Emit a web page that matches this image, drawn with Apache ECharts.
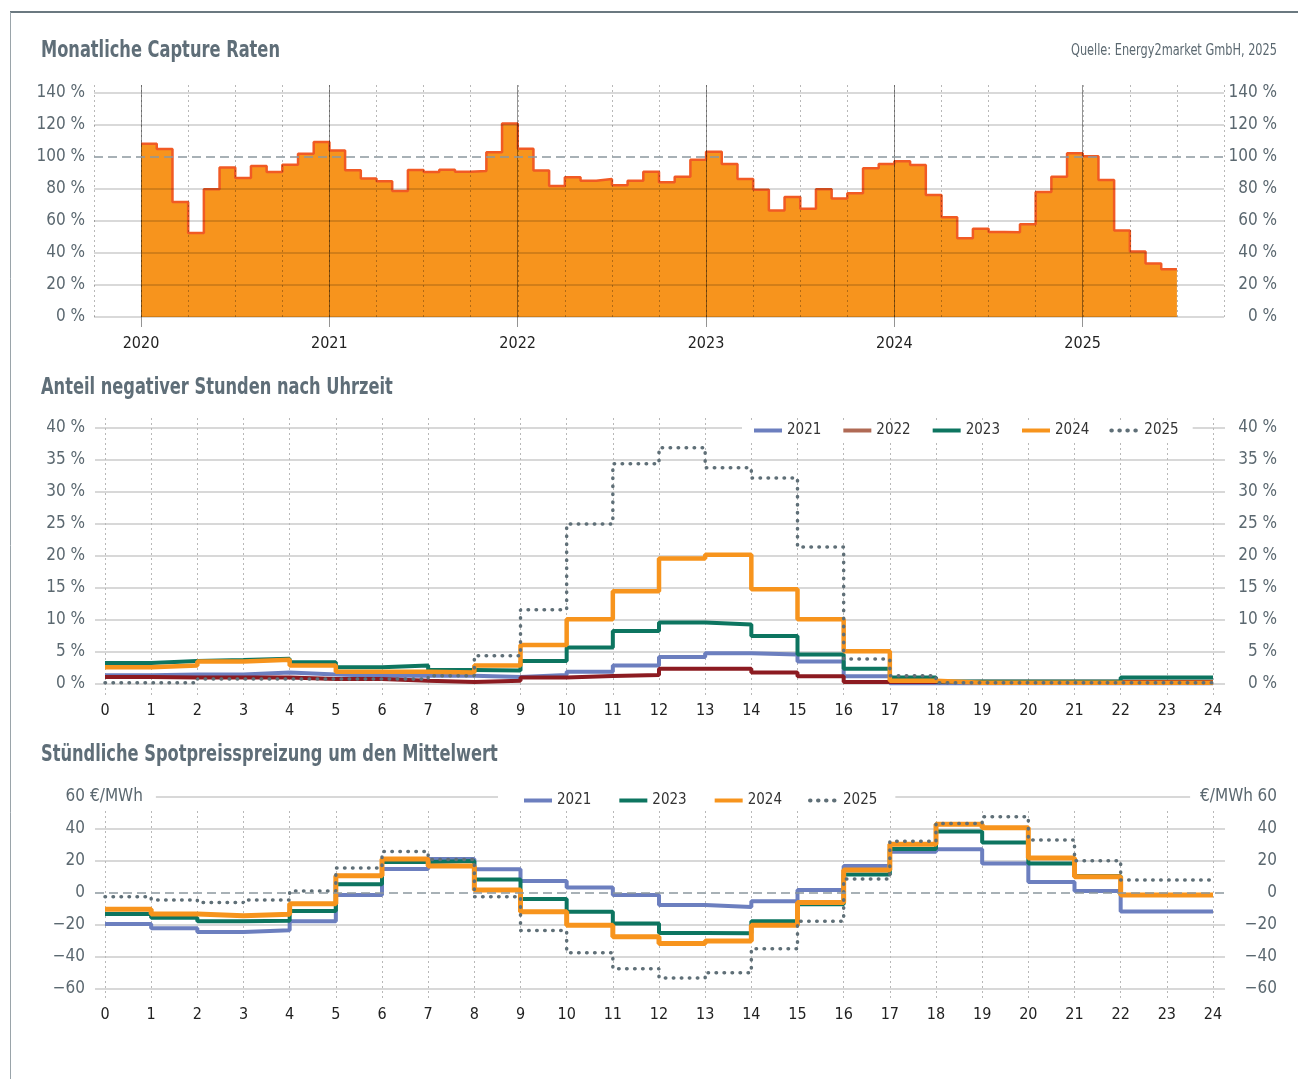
<!DOCTYPE html>
<html><head><meta charset="utf-8">
<script src="https://cdn.jsdelivr.net/npm/echarts@6/dist/echarts.min.js"></script>
<style>html,body{margin:0;padding:0;background:#fff}#c{width:1298px;height:1079px}</style>
</head><body><div id="c"></div>
<script>
// ---------- DATA ----------
const yearTicks = ['2020', '2021', '2022', '2023', '2024', '2025'];
const hourTicks = ['0','1','2','3','4','5','6','7','8','9','10','11','12','13','14','15','16','17','18','19','20','21','22','23','24'];
const pctTicks = [0, 20, 40, 60, 80, 100, 120, 140];
const negTicks = [0, 5, 10, 15, 20, 25, 30, 35, 40];
const spreadTicks = [-60, -40, -20, 0, 20, 40, 60];

// Monthly capture rates in %, Jan 2020 .. Jun 2025
const captureRates = [
  108.3, 105.0, 71.9, 52.5, 79.8, 93.5, 86.9, 94.4, 90.6, 95.2, 102.1, 109.4,
  104.0, 91.7, 86.5, 84.8, 78.8, 91.9, 90.6, 92.1, 90.8, 91.3, 102.9, 121.0,
  105.2, 91.5, 81.9, 87.3, 85.2, 86.3, 82.3, 85.2, 90.8, 84.2, 87.7, 98.3,
  103.3, 95.6, 86.3, 79.6, 66.5, 75.0, 67.7, 79.8, 74.0, 77.3, 92.9, 95.6,
  97.3, 95.0, 76.3, 62.3, 49.2, 55.2, 53.1, 52.9, 57.9, 78.1, 87.7, 102.3,
  100.4, 85.6, 54.0, 41.0, 33.5, 29.8
];

// Share of negative hours by hour of day (%)
const negYears = ['2021', '2022', '2023', '2024', '2025'];
const neg2021 = [1.35,1.5,1.5,1.8,1.5,1.3,1.3,1.3,1.1,1.4,1.9,2.9,4.2,4.8,4.6,3.5,1.2,0.1,0.1,0.1,0.1,0.1,0.1,0.1];
const neg2022 = [1.1,1.0,1.0,1.0,0.8,0.8,0.5,0.3,0.5,1.0,1.25,1.4,2.4,2.4,1.8,1.2,0.3,0.3,0.35,0.35,0.35,0.35,0.35,0.35];
const neg2023 = [3.3,3.6,3.75,3.95,3.4,2.6,2.9,2.2,2.1,3.6,5.7,8.3,9.6,9.3,7.5,4.6,2.4,1.0,0.4,0.4,0.4,0.4,1.0,1.0];
const neg2024 = [2.6,2.9,3.5,3.8,2.9,1.9,1.9,1.8,2.9,6.1,10.1,14.5,19.6,20.2,14.8,10.1,5.1,0.5,0.2,0.2,0.2,0.2,0.2,0.2];
const neg2025 = [0.2,0.2,0.8,0.8,0.8,0.8,0.8,1.3,4.4,11.6,25.0,34.4,36.9,33.8,32.2,21.4,3.9,1.3,0.2,0.2,0.2,0.2,0.2,0.2];

// Hourly spot price spread around the mean (EUR/MWh)
const spreadYears = ['2021', '2023', '2024', '2025'];
const spr2021 = [-19.4,-22.1,-24.4,-23.3,-17.7,-1.25,15.0,21.3,14.8,7.5,3.5,-1.25,-7.5,-8.75,-5.2,1.9,16.9,25.8,27.3,18.5,6.9,1.25,-11.5,-11.5];
const spr2023 = [-13.1,-15.4,-17.7,-17.3,-11.3,5.4,19.4,20.0,8.5,-3.75,-11.7,-19.0,-25.0,-25.2,-17.7,-7.0,11.5,27.5,38.5,31.5,18.5,10.6,-1.25,-1.25];
const spr2024 = [-10.2,-13.1,-14.2,-13.3,-6.7,10.8,21.3,16.9,1.9,-11.7,-20.2,-27.3,-31.5,-30.0,-20.2,-6.0,14.4,30.4,43.0,40.8,21.9,10.2,-1.25,-1.25];
const spr2025 = [-2.3,-4.4,-6.0,-4.4,1.25,15.6,26.0,21.0,-2.3,-23.5,-37.3,-47.3,-53.1,-49.8,-34.8,-17.7,8.75,32.3,43.5,47.7,33.1,20.2,8.1,8.1];

// Text
const titleTop = 'Monatliche Capture Raten';
const titleMid = 'Anteil negativer Stunden nach Uhrzeit';
const titleBot = 'Stündliche Spotpreisspreizung um den Mittelwert';
const sourceText = 'Quelle: Energy2market GmbH, 2025';
const unitText = '€/MWh';

// ---------- STYLE ----------
const FONT = '"Liberation Sans Narrow","DejaVu Sans Condensed","Roboto Condensed",sans-serif';
const TICK_COLOR = '#5b6870';
const TITLE_COLOR = '#5f6e78';
const C2021 = '#6c7fbf', C2022 = '#8c1b21', C2023 = '#0d7560', C2024 = '#f7941d', C2025 = '#5f6f77';
const GRID_C = '#cbcbcb';

function stepData(arr) {
  const d = arr.map((v, i) => [i, v]);
  d.push([arr.length, arr[arr.length - 1]]);
  return d;
}
function minus(v) { return v < 0 ? '\u2212' + Math.abs(v) : String(v); }

const tickLabel = { fontFamily: FONT, fontSize: 17, color: TICK_COLOR };
const catLabel = { fontFamily: FONT, fontSize: 16, color: '#222' };

function hidden(gridIndex, extra) { return Object.assign({ type: 'value', gridIndex, show: false }, extra || {}); }

const chart = echarts.init(document.getElementById('c'), null, { renderer: 'canvas' });

const dotted = (color) => ({ color, width: 3.5, type: [0.5, 7.5], cap: 'round' });

function titleText(text, y) {
  return { type: 'text', z: 100, x: 41, y, scaleX: 0.785,
    style: { text, font: 'bold 23px ' + FONT, fill: TITLE_COLOR, verticalAlign: 'middle', align: 'left' } };
}

const option = {
  animation: false,
  backgroundColor: '#fff',
  legend: [
    { data: negYears.map(n => n === '2022' ? { name: n, lineStyle: { color: '#b06a55' } } : n),
      left: 742, top: 420, itemWidth: 28, itemHeight: 14, itemGap: 20,
      itemStyle: { opacity: 0 }, lineStyle: { width: 4 },
      backgroundColor: '#fff', padding: [3, 14, 3, 10],
      textStyle: { fontFamily: FONT, fontSize: 15, color: '#333' } },
    { data: spreadYears, left: 498, top: 790, itemWidth: 28, itemHeight: 14, itemGap: 26,
      itemStyle: { opacity: 0 }, lineStyle: { width: 4 },
      backgroundColor: '#fff', padding: [3, 18, 3, 24],
      textStyle: { fontFamily: FONT, fontSize: 15, color: '#333' } }
  ],
  grid: [
    { left: 94, right: 74, top: 93, bottom: 762 },   // 0 top data + horizontal lines
    { left: 94, right: 74, top: 85, bottom: 761 },   // 1 top quarter lines
    { left: 141, right: 27, top: 85, bottom: 752 },  // 2 top year lines
    { left: 95, right: 73, top: 428, bottom: 395 },  // 3 mid bg
    { left: 105, right: 85, top: 428, bottom: 395 }, // 4 mid data
    { left: 105, right: 85, top: 418, bottom: 382 }, // 5 mid verticals
    { left: 95, right: 73, top: 797, bottom: 90 },   // 6 bottom bg
    { left: 105, right: 85, top: 797, bottom: 90 },  // 7 bottom data
    { left: 105, right: 85, top: 811, bottom: 79 }   // 8 bottom verticals
  ],
  xAxis: [
    hidden(0, { min: -3, max: 69 }),
    { type: 'value', gridIndex: 1, min: -3, max: 69, interval: 3, z: 5,
      axisLine: { show: false }, axisTick: { show: false }, axisLabel: { show: false },
      splitLine: { show: true, lineStyle: { color: 'rgba(0,0,0,0.28)', width: 1, type: [2, 3] } } },
    { type: 'value', gridIndex: 2, min: 0, max: 72, interval: 12, z: 5,
      axisLine: { show: false }, axisTick: { show: false },
      axisLabel: Object.assign({ margin: 9, formatter: v => yearTicks[v / 12] || '' }, catLabel),
      splitLine: { show: true, lineStyle: { color: ['rgba(0,0,0,0.42)','rgba(0,0,0,0.42)','rgba(0,0,0,0.42)','rgba(0,0,0,0.42)','rgba(0,0,0,0.42)','rgba(0,0,0,0.42)','transparent'], width: 1 } } },
    hidden(3, { min: 0, max: 1 }),
    { type: 'value', gridIndex: 4, min: 0, max: 24, interval: 1,
      axisLine: { show: false }, axisTick: { show: false }, splitLine: { show: false },
      axisLabel: Object.assign({ margin: 19, formatter: v => hourTicks[v] }, catLabel) },
    { type: 'value', gridIndex: 5, min: 0, max: 24, interval: 1,
      axisLine: { show: false }, axisTick: { show: false }, axisLabel: { show: false },
      splitLine: { show: true, lineStyle: { color: '#b8b8b8', width: 1, type: [2, 3] } } },
    hidden(6, { min: 0, max: 1 }),
    { type: 'value', gridIndex: 7, min: 0, max: 24, interval: 1,
      axisLine: { show: false }, axisTick: { show: false }, splitLine: { show: false },
      axisLabel: Object.assign({ margin: 18, formatter: v => hourTicks[v] }, catLabel) },
    { type: 'value', gridIndex: 8, min: 0, max: 24, interval: 1,
      axisLine: { show: false }, axisTick: { show: false }, axisLabel: { show: false },
      splitLine: { show: true, lineStyle: { color: '#b8b8b8', width: 1, type: [2, 3] } } }
  ],
  yAxis: [
    { type: 'value', gridIndex: 0, position: 'left', min: pctTicks[0], max: pctTicks[pctTicks.length - 1], interval: 20, z: 5,
      axisLine: { show: false }, axisTick: { show: false },
      axisLabel: Object.assign({ margin: 9, formatter: v => v + ' %' }, tickLabel),
      splitLine: { show: true, lineStyle: { width: 1.5, color: pctTicks.map(v => v === 100 ? 'transparent' : 'rgba(0,0,0,0.2)') } } },
    { type: 'value', gridIndex: 0, position: 'right', min: 0, max: 140, interval: 20,
      axisLine: { show: false }, axisTick: { show: false }, splitLine: { show: false },
      axisLabel: Object.assign({ margin: 53, align: 'right', formatter: v => v + ' %' }, tickLabel) },
    hidden(1, { min: 0, max: 1 }),
    hidden(2, { min: 0, max: 1 }),
    { type: 'value', gridIndex: 3, position: 'left', min: negTicks[0], max: negTicks[negTicks.length - 1], interval: 5,
      axisLine: { show: false }, axisTick: { show: false },
      axisLabel: Object.assign({ margin: 10, formatter: v => v + ' %' }, tickLabel),
      splitLine: { show: true, lineStyle: { width: 1.5, color: GRID_C } } },
    { type: 'value', gridIndex: 3, position: 'right', min: 0, max: 40, interval: 5,
      axisLine: { show: false }, axisTick: { show: false }, splitLine: { show: false },
      axisLabel: Object.assign({ margin: 52, align: 'right', formatter: v => v + ' %' }, tickLabel) },
    hidden(4, { min: 0, max: 40 }),
    hidden(5, { min: 0, max: 1 }),
    { type: 'value', gridIndex: 6, position: 'left', min: spreadTicks[0], max: spreadTicks[spreadTicks.length - 1], interval: 20,
      axisLine: { show: false }, axisTick: { show: false },
      axisLabel: Object.assign({ margin: 10, formatter: minus }, tickLabel),
      splitLine: { show: true, lineStyle: { width: 1.5, color: spreadTicks.map(v => v === 0 ? 'transparent' : GRID_C) } } },
    { type: 'value', gridIndex: 6, position: 'right', min: -60, max: 60, interval: 20,
      axisLine: { show: false }, axisTick: { show: false }, splitLine: { show: false },
      axisLabel: Object.assign({ margin: 52, align: 'right', formatter: minus }, tickLabel) },
    hidden(7, { min: -60, max: 60 }),
    hidden(8, { min: 0, max: 1 })
  ],
  series: [
    { type: 'line', name: 'Capture Rate', xAxisIndex: 0, yAxisIndex: 0, step: 'end', symbol: 'none', z: 2,
      data: stepData(captureRates),
      lineStyle: { color: '#f15a24', width: 2.5 },
      areaStyle: { color: '#f7941d', opacity: 1 },
      markLine: { silent: true, symbol: 'none', label: { show: false },
        lineStyle: { color: '#8c989e', width: 1.5, type: [9, 5] }, data: [{ yAxis: 100 }] } },
    { type: 'line', name: '2021', xAxisIndex: 4, yAxisIndex: 6, step: 'end', symbol: 'none', data: stepData(neg2021), lineStyle: { color: C2021, width: 4 }, itemStyle: { color: C2021 } },
    { type: 'line', name: '2022', xAxisIndex: 4, yAxisIndex: 6, step: 'end', symbol: 'none', data: stepData(neg2022), lineStyle: { color: C2022, width: 4 }, itemStyle: { color: C2022 } },
    { type: 'line', name: '2023', xAxisIndex: 4, yAxisIndex: 6, step: 'end', symbol: 'none', data: stepData(neg2023), lineStyle: { color: C2023, width: 4 }, itemStyle: { color: C2023 } },
    { type: 'line', name: '2024', xAxisIndex: 4, yAxisIndex: 6, step: 'end', symbol: 'none', data: stepData(neg2024), lineStyle: { color: C2024, width: 4.5 }, itemStyle: { color: C2024 } },
    { type: 'line', name: '2025', xAxisIndex: 4, yAxisIndex: 6, step: 'end', symbol: 'none', data: stepData(neg2025), lineStyle: dotted(C2025), itemStyle: { color: C2025 } },
    { type: 'line', name: 'zero', xAxisIndex: 6, yAxisIndex: 8, data: [], silent: true,
      markLine: { silent: true, symbol: 'none', label: { show: false },
        lineStyle: { color: '#8c989e', width: 1.5, type: [9, 5] }, data: [{ yAxis: 0 }] } },
    { type: 'line', name: '2021', xAxisIndex: 7, yAxisIndex: 10, step: 'end', symbol: 'none', data: stepData(spr2021), lineStyle: { color: C2021, width: 4 }, itemStyle: { color: C2021 } },
    { type: 'line', name: '2023', xAxisIndex: 7, yAxisIndex: 10, step: 'end', symbol: 'none', data: stepData(spr2023), lineStyle: { color: C2023, width: 4 }, itemStyle: { color: C2023 } },
    { type: 'line', name: '2024', xAxisIndex: 7, yAxisIndex: 10, step: 'end', symbol: 'none', data: stepData(spr2024), lineStyle: { color: C2024, width: 5 }, itemStyle: { color: C2024 } },
    { type: 'line', name: '2025', xAxisIndex: 7, yAxisIndex: 10, step: 'end', symbol: 'none', data: stepData(spr2025), lineStyle: dotted(C2025), itemStyle: { color: C2025 } }
  ],
  graphic: [
    { type: 'line', z: 100, shape: { x1: 10, y1: 12, x2: 1298, y2: 12 }, style: { stroke: '#6b7980', lineWidth: 2 } },
    { type: 'line', z: 100, shape: { x1: 10.5, y1: 12, x2: 10.5, y2: 1079 }, style: { stroke: '#9aa4aa', lineWidth: 1 } },
    titleText(titleTop, 51),
    titleText(titleMid, 388),
    titleText(titleBot, 755),
    { type: 'text', z: 100, x: 1277, y: 51, scaleX: 0.84,
      style: { text: sourceText, font: '15px ' + FONT, fill: TICK_COLOR, verticalAlign: 'middle', align: 'right' } },
    { type: 'text', z: 100, x: 90, y: 797, style: { text: unitText, font: '17px ' + FONT, fill: TICK_COLOR,
      verticalAlign: 'middle', align: 'left', backgroundColor: '#fff', padding: [3, 13, 3, 0] } },
    { type: 'text', z: 100, x: 1253, y: 797, style: { text: unitText, font: '17px ' + FONT, fill: TICK_COLOR,
      verticalAlign: 'middle', align: 'right', backgroundColor: '#fff', padding: [3, 0, 3, 10] } }
  ]
};
chart.setOption(option);
</script>
</body></html>
